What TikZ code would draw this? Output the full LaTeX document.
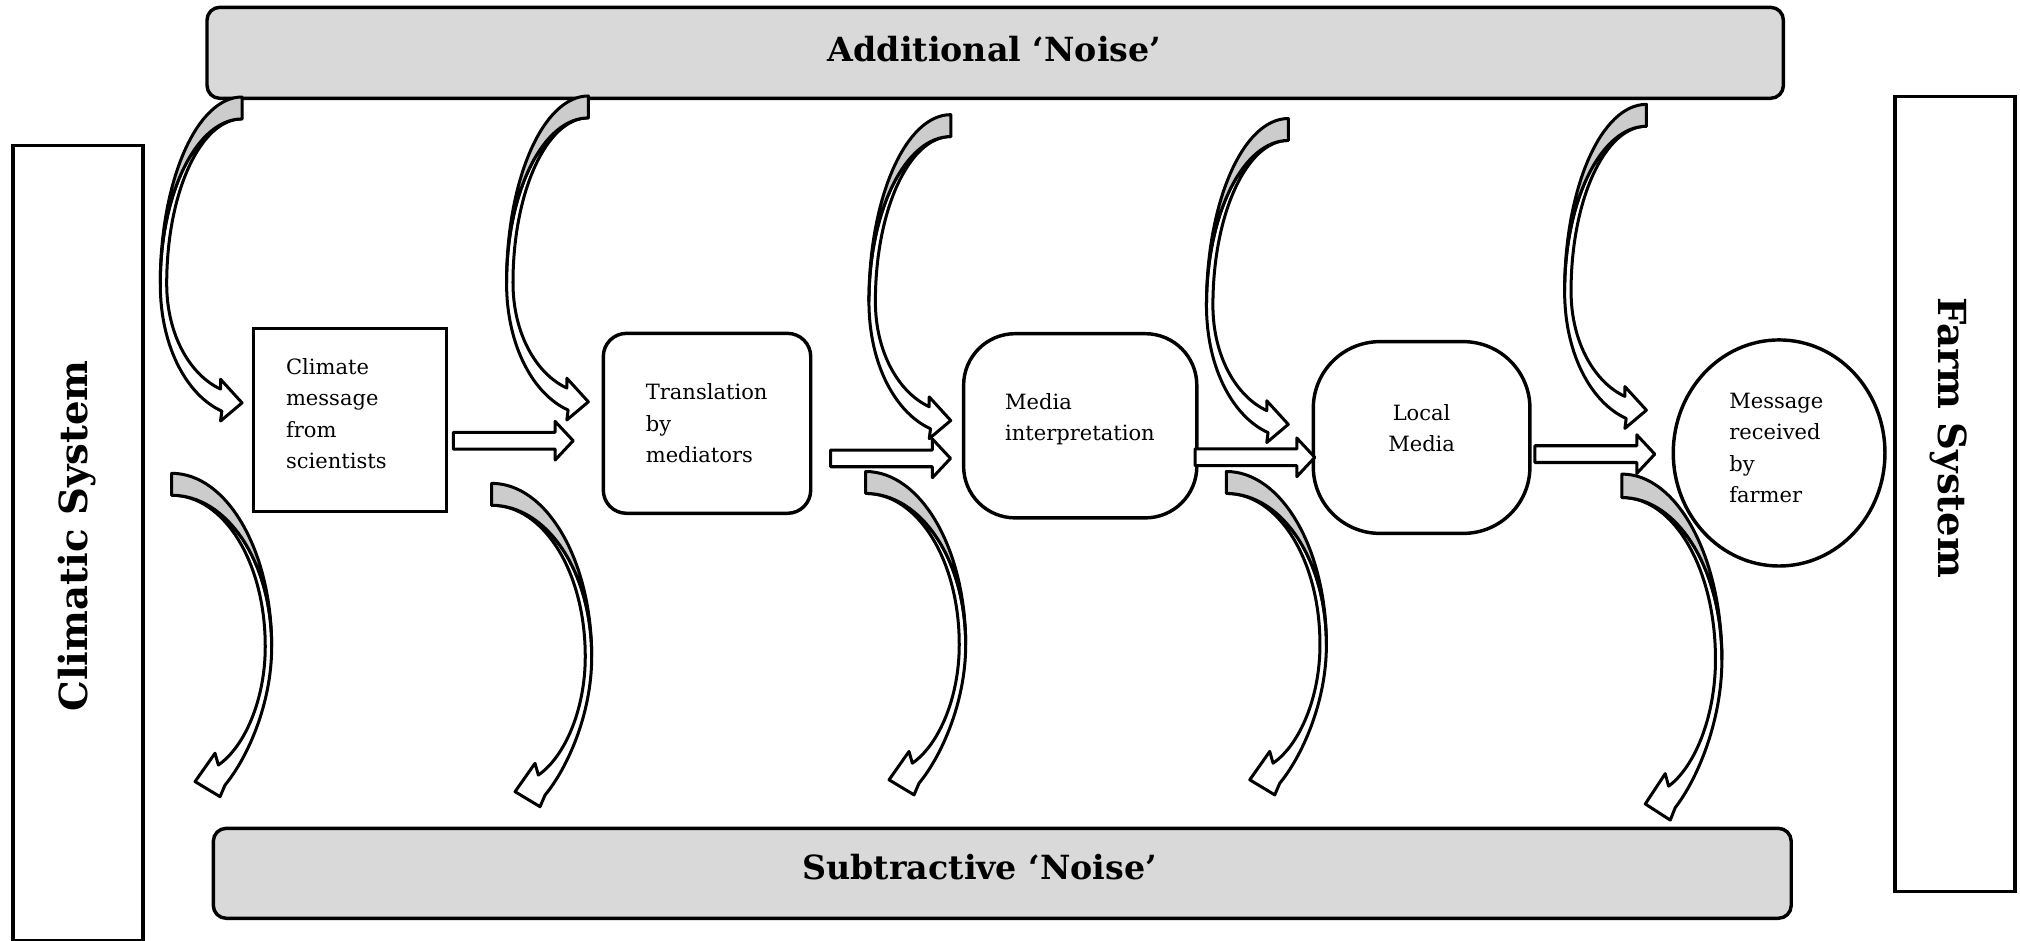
\documentclass[tikz,border=0pt]{standalone}
\usepackage{fontspec}
\setmainfont{DejaVu Serif}
\usetikzlibrary{shapes.geometric}

\definecolor{barfill}{RGB}{217,217,217}
\definecolor{backfill}{RGB}{204,204,204}

\tikzset{
	noisebar/.style={draw, line width=1.6pt, fill=barfill, rounded corners=6pt},
	sysbox/.style={draw, line width=1.6pt, rectangle},
	msgbox/.style={draw, line width=1.6pt, rectangle},
	msgtext/.style={inner sep=0pt, align=left, font=\fontsize{9.8}{14.6}\selectfont},
	headlabel/.style={font=\fontsize{15.5}{18}\selectfont\bfseries},
	sidelabel/.style={font=\fontsize{18}{21}\selectfont\bfseries},
	noiseline/.style={line width=1.4pt, line join=round},
	flowarrow/.pic={
		\draw[noiseline, fill=white] (0,-6.5) -- (79,-6.5) -- (79,-15) -- (93,0)
			-- (79,15) -- (79,6.5) -- (0,6.5) -- cycle;
	},
	addnoise/.pic={
		% front face with the head
		\draw[noiseline, fill=white] (0,17) .. controls (-35.1,17) and (-63.5,74.3) .. (-63.5,145)
			.. controls (-63.5,195) and (-42,232) .. (-15.7,243.8)
			-- (-16.7,251.5) -- (0,237.4) -- (-16.7,219.1) -- (-16.7,226.7)
			.. controls (-40,216) and (-58.5,185) .. (-58.5,145)
			.. controls (-58.5,74.3) and (-32.3,17) .. cycle;
		% back face
		\draw[noiseline, fill=backfill] (0,0) .. controls (-35.1,0) and (-63.5,64.9) .. (-63.5,145)
			.. controls (-63.5,74.3) and (-35.1,17) .. (0,17) -- cycle;
	},
	subnoise/.pic={
		% front face with the head
		\draw[noiseline, fill=white] (0,17) .. controls (42.9,17) and (77.6,68.3) .. (77.6,134.5)
			.. controls (77.6,180) and (58,222) .. (41.4,241.9)
			-- (37.5,251) -- (18.1,239.3) -- (33.6,217.3) -- (36.2,226.4)
			.. controls (57,212) and (72.6,175) .. (72.6,134.5)
			.. controls (72.6,68.3) and (40.1,17) .. cycle;
		% back face
		\draw[noiseline, fill=backfill] (0,0) .. controls (42.9,0) and (77.6,60.2) .. (77.6,134.5)
			.. controls (77.6,68.3) and (42.9,17) .. (0,17) -- cycle;
	}
}

\begin{document}
\begin{tikzpicture}[x=0.6pt, y=-0.6pt]
	
	\useasboundingbox (0,0) rectangle (1568,730);
	
	% systems at both ends
	\node[sysbox, minimum width=60.6pt, minimum height=370.5pt] (climsys) at (60.5,421.7) {};
	\node[sidelabel, rotate=90] (climlabel) at (60,416) {Climatic System};
	\node[sysbox, minimum width=55.9pt, minimum height=370.3pt] (farmsys) at (1517.5,383.5) {};
	\node[sidelabel, rotate=-90] (farmlabel) at (1512.5,340) {Farm System};
	
	% noise bars
	\node[noisebar, minimum width=734.2pt, minimum height=42.4pt] (addbar) at (772.5,41) {};
	\node[headlabel] (addlabel) at (772,38) {Additional ‘Noise’};
	\node[noisebar, minimum width=734.9pt, minimum height=41.9pt] (subbar) at (778,677.9) {};
	\node[headlabel] (sublabel) at (760.5,673) {Subtractive ‘Noise’};
	
	% message chain
	\node[msgbox, minimum width=90.1pt, minimum height=85.4pt] (sci) at (271.7,326) {};
	\node[msgtext, text width=59.6pt] (scitext) at ([yshift=3pt]sci.center) {Climate\\message\\from\\scientists};
	\node[msgbox, rounded corners=10.8pt, minimum width=96.6pt, minimum height=83.8pt] (med) at (548.8,328.6) {};
	\node[msgtext, text width=57pt] (medtext) at (med.center) {Translation\\by\\mediators};
	\node[msgbox, rounded corners=24pt, minimum width=108.6pt, minimum height=85.8pt] (media) at (838.5,330.5) {};
	\node[msgtext, text width=70pt] (mediatext) at ([yshift=3pt]media.center) {Media\\interpretation};
	\node[msgbox, rounded corners=31pt, minimum width=100.9pt, minimum height=89.3pt] (local) at (1103.5,339.6) {};
	\node[msgtext, align=center] (localtext) at ([yshift=4.5pt]local.center) {Local\\Media};
	\node[msgbox, ellipse, minimum width=98.6pt, minimum height=105.3pt] (farmer) at (1381,351.6) {};
	\node[msgtext, text width=46.4pt] (farmertext) at ([yshift=2.4pt]farmer.center) {Message\\received\\by\\farmer};
	
	% block arrows between the steps
	\pic (f1) at (351.9,342.1) {flowarrow};
	\pic (f2) at (644.8,355.8) {flowarrow};
	\pic (f3) at (927.6,355) {flowarrow};
	\pic (f4) at (1191.5,352.5) {flowarrow};
	
	% noise added from above
	\pic (a1) at (187.9,75.3) {addnoise};
	\pic (a2) at (456.7,74.5) {addnoise};
	\pic (a3) at (738,89) {addnoise};
	\pic (a4) at (1000,92) {addnoise};
	\pic (a5) at (1278,81) {addnoise};
	
	% noise taken away below
	\pic (s1) at (133.3,367.4) {subnoise};
	\pic (s2) at (381.7,375.2) {subnoise};
	\pic (s3) at (672,366) {subnoise};
	\pic (s4) at (952,366) {subnoise};
	\pic[yscale=1.07] (s5) at (1259,368) {subnoise};
	
\end{tikzpicture}
\end{document}
